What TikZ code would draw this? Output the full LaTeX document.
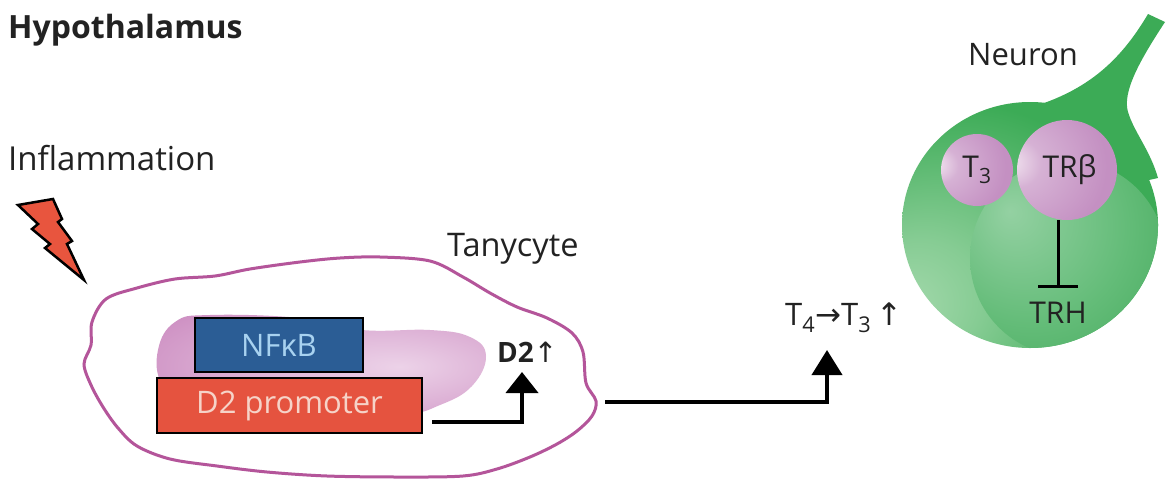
\documentclass[tikz,border=0pt]{standalone}
\usepackage{fontspec}
\setmainfont{Open Sans}
\newfontfamily\arrowsfam{DejaVu Sans}
\usetikzlibrary{arrows.meta}

\definecolor{inkgray}{HTML}{222222}
\definecolor{boltred}{HTML}{E8553E}
\definecolor{promred}{HTML}{E5533F}
\definecolor{promtext}{HTML}{F6D3C8}
\definecolor{nfblue}{HTML}{2B5D95}
\definecolor{nftext}{HTML}{A8D2F0}
\definecolor{cellrim}{HTML}{B4559A}
\definecolor{nucbase}{HTML}{C57DB8}
\definecolor{nuclight}{HTML}{ECD2E8}
\definecolor{neugreen}{HTML}{3CAB56}
\definecolor{neulight}{HTML}{A6DAAE}
\definecolor{sphbase}{HTML}{C490C2}
\definecolor{sphlight}{HTML}{F4E8F2}

% nucleus of the tanycyte
\pgfdeclareradialshading{nucshade}{\pgfpoint{12bp}{0bp}}{%
  color(0bp)=(nuclight); color(20bp)=(nuclight!60!nucbase);
  color(45bp)=(nucbase); color(60bp)=(nucbase!85!black)}
% neuron cell body, lit from the lower left
\pgfdeclareradialshading{bodyshade}{\pgfpoint{-26bp}{-18bp}}{%
  color(0bp)=(neulight); color(12bp)=(neulight!70!neugreen);
  color(34bp)=(neugreen); color(70bp)=(neugreen)}
% neuron nucleus
\pgfdeclareradialshading{innershade}{\pgfpoint{-15bp}{12bp}}{%
  color(0bp)=(neugreen!55!white); color(25bp)=(neugreen!80!white);
  color(50bp)=(neugreen!95!black); color(70bp)=(neugreen)}
% receptor / hormone spheres
\pgfdeclareradialshading{sphshade}{\pgfpoint{-30bp}{4bp}}{%
  color(0bp)=(sphlight); color(12bp)=(sphbase!70!white);
  color(35bp)=(sphbase); color(70bp)=(sphbase)}

\tikzset{
  lbl/.style={inner sep=0pt, text=inkgray, font=\fontsize{31}{37}\selectfont},
  genebox/.style={draw=black, line width=2.5pt, inner sep=0pt,
    font=\fontsize{31}{37}\selectfont},
  sphere/.style={circle, shading=sphshade, inner sep=0pt, text=inkgray,
    font=\fontsize{30}{35}\selectfont},
  conn/.style={line width=4pt, draw=black},
}

\begin{document}
\begin{tikzpicture}[x=1pt, y=-1pt]
\useasboundingbox (0,0) rectangle (1166,479);
\fill[white] (0,0) rectangle (1166,479);

% titles
\node[lbl, anchor=base west, font=\bfseries\fontsize{32}{38}\selectfont] (title) at (8,38) {Hypothalamus};
\node[lbl, anchor=base west, font=\fontsize{33}{39}\selectfont] (inflam) at (8,170) {Inflammation};

% lightning bolt
\draw[line width=2.5pt, fill=boltred, line join=miter]
  (18,205) -- (53,199) -- (62,219) -- (58,222) -- (72,241) -- (67,244)
  -- (84,280) -- (45,248) -- (50,244) -- (32,229) -- (38,224) -- cycle;

% tanycyte membrane
\draw[cellrim, line width=3pt] plot[smooth cycle, tension=0.55] coordinates {
  (84,364) (91,345) (92,322) (106,299) (137,288) (175,279) (215,276)
  (250,269) (300,262) (340,258) (380,257) (430,261) (463,277) (490,293)
  (517,307) (547,318) (572,333) (583,352) (586,383) (596,401) (592,416)
  (577,431) (557,444) (530,457) (497,469) (463,476) (400,477) (327,476)
  (267,472) (217,466) (170,459) (137,446) (118,428) (103,407) (91,385)};
\node[lbl, anchor=base west, font=\fontsize{32.5}{38}\selectfont] (tany) at (447,256) {Tanycyte};

% nucleus
\path[shading=nucshade] plot[smooth cycle, tension=0.7] coordinates {
  (158,350) (175,322) (210,315) (300,318) (362,330) (430,330) (470,337)
  (486,356) (472,386) (440,405) (400,415) (300,418) (190,410) (162,385)};

% transcription complex
\node[genebox, fill=nfblue, text=nftext, minimum width=168pt, minimum height=54pt]
  (nfkb) at (279,345) {NFκB};
\node[genebox, fill=promred, text=promtext, minimum width=265pt, minimum height=55pt]
  (prom) at (289.5,405.5) {D2 promoter};

\node[lbl, anchor=base west, font=\bfseries\fontsize{28}{33}\selectfont] (d2lbl) at (497,362)
  {D2{\arrowsfam\mdseries ↑}};
\coordinate (d2start) at (432,422);
\coordinate (d2tip) at (522,372);
\draw[conn, -{Triangle[length=21pt, width=32pt]}] (d2start) -| (d2tip);

% conversion of T4 to T3
\coordinate (tstart) at (605,402);
\coordinate (ttip) at (827,350);
\draw[conn, -{Triangle[length=25pt, width=30pt]}] (tstart) -| (ttip);
\node[lbl, anchor=base west] (t4t3) at (785,325)
  {T\textsubscript{4}{\arrowsfam →}T\textsubscript{3}\,{\arrowsfam ↑}};

% neuron: process, cell body, nucleus
\fill[neugreen] (1000,115) .. controls (1075,100) and (1115,70) .. (1148,14)
  -- (1165,22) .. controls (1140,60) and (1122,92) .. (1128,112)
  .. controls (1134,132) and (1150,150) .. (1158,178) -- (1060,200) -- cycle;
\path[shading=bodyshade] (1030,225) ellipse [x radius=128pt, y radius=123pt];
\begin{scope}
  \clip (1030,225) ellipse [x radius=128pt, y radius=123pt];
  \path[shading=innershade] (1068,258) circle [radius=98pt];
\end{scope}
\node[lbl, anchor=base west] (neulbl) at (968,65) {Neuron};

\node[sphere, minimum size=72pt] (t3) at (977,170) {T\textsubscript{3}};
\node[sphere, minimum size=100pt] (trb) at (1067,170) {\,TRβ};

\node[lbl, anchor=base, font=\fontsize{30}{36}\selectfont] (trh) at (1058,323) {TRH};
\coordinate (inhbar) at (1058,288);
\draw[line width=3pt, -{Bar[width=40pt, line width=3pt]}] (trb.south -| inhbar) -- (inhbar);

\end{tikzpicture}
\end{document}
